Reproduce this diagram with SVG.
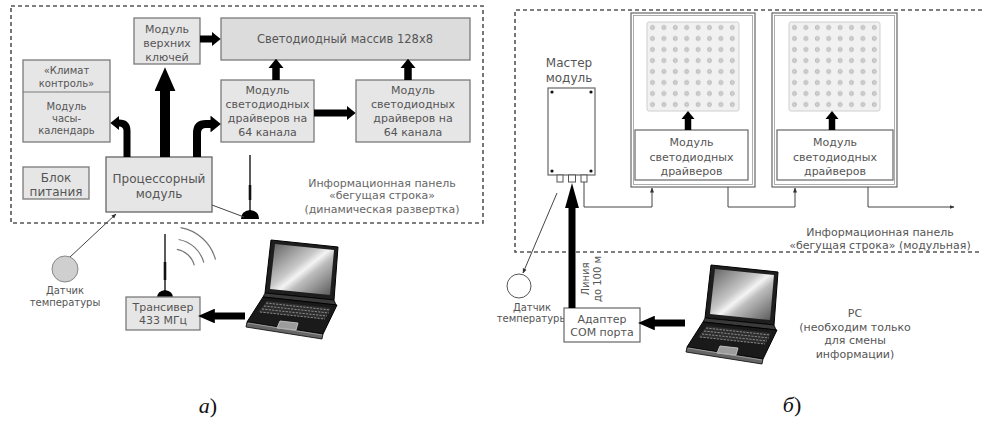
<svg xmlns="http://www.w3.org/2000/svg" width="982" height="421" viewBox="0 0 982 421">
  <style>
    .box { fill:#e6e6e6; stroke:#7a7a7a; stroke-width:1.3 }
    .boxd { fill:#dcdcdc; stroke:#7a7a7a; stroke-width:1.3 }
    .wbox { fill:#fff; stroke:#666; stroke-width:1.2 }
    .inner { fill:none; stroke:#9a9a9a; stroke-width:0.8 }
    .t { font-family:"DejaVu Sans", Verdana, sans-serif; font-size:11px; fill:#555; text-anchor:middle }
    .s10 { font-size:10px }
    .s12 { font-size:12px }
    .cap { font-family:"Liberation Serif", "Times New Roman", serif; font-size:22px; fill:#111; text-anchor:middle }
    .dash { fill:none; stroke:#555; stroke-width:1.6; stroke-dasharray:4 3 }
    .thick { fill:none; stroke:#000 }
    .thin { fill:none; stroke:#444; stroke-width:1 }
    .wave { fill:none; stroke:#777; stroke-width:1.2 }
  </style>
  <defs>
    <!-- short wide arrowhead, scales with the shaft width -->
    <marker id="hs" viewBox="0 0 10 10" refX="0.5" refY="5" markerWidth="1.3" markerHeight="2.1" markerUnits="strokeWidth" orient="auto" preserveAspectRatio="none">
      <path d="M0,0 L10,5 L0,10 Z" fill="#000"/>
    </marker>
    <!-- long arrowhead -->
    <marker id="hl" viewBox="0 0 10 10" refX="0.5" refY="5" markerWidth="2.4" markerHeight="2.1" markerUnits="strokeWidth" orient="auto" preserveAspectRatio="none">
      <path d="M0,0 L10,5 L0,10 Z" fill="#000"/>
    </marker>
    <!-- slim long arrowhead -->
    <marker id="hx" viewBox="0 0 10 10" refX="0.5" refY="5" markerWidth="3.6" markerHeight="2" markerUnits="strokeWidth" orient="auto" preserveAspectRatio="none">
      <path d="M0,0 L10,5 L0,10 Z" fill="#000"/>
    </marker>
    <!-- small arrowhead for thin wires -->
    <marker id="ht" viewBox="0 0 10 10" refX="9" refY="5" markerWidth="5" markerHeight="5" markerUnits="userSpaceOnUse" orient="auto">
      <path d="M0,1 L10,5 L0,9 Z" fill="#333"/>
    </marker>
    <linearGradient id="scr" x1="0" y1="0" x2="1" y2="1">
      <stop offset="0" stop-color="#5e5e5e"/>
      <stop offset="0.42" stop-color="#c8c8c8"/>
      <stop offset="0.52" stop-color="#f4f4f4"/>
      <stop offset="0.62" stop-color="#bdbdbd"/>
      <stop offset="1" stop-color="#555"/>
    </linearGradient>
    <pattern id="led" patternUnits="userSpaceOnUse" width="11.4" height="11" x="-1.5" y="-0.5">
      <circle cx="7" cy="6" r="2" fill="#d2d2d2" stroke="#9a9a9a" stroke-width="0.6"/>
    </pattern>
    <!-- notebook computer -->
    <g id="laptop">
      <polygon points="26,0 93,7 89,60 20,53" fill="#1e1e1e" stroke="#000" stroke-width="1"/>
      <polygon points="30,4 89,10 85,55 25,49" fill="url(#scr)"/>
      <polygon points="20,53 89,60 91,65 18,57" fill="#3a3a3a" stroke="#000" stroke-width="0.8"/>
      <polygon points="18,57 92,65 78,94 2,82" fill="#1a1a1a" stroke="#000" stroke-width="1"/>
      <polygon points="2,82 78,94 77,99 1,87" fill="#666" stroke="#000" stroke-width="0.8"/>
      <polygon points="22,61 86,68 80,79 13,72" fill="#2e2e2e"/>
      <g stroke="#8a8a8a" stroke-width="1" stroke-dasharray="2.2 1.2">
        <line x1="21" y1="63" x2="85" y2="70"/>
        <line x1="19" y1="66" x2="84" y2="73"/>
        <line x1="17" y1="69" x2="82" y2="76"/>
        <line x1="15" y1="72" x2="80" y2="79"/>
      </g>
      <polygon points="35,81 53,83 51,90 32,88" fill="#9c9c9c" stroke="#d0d0d0" stroke-width="0.8"/>
      <line x1="3" y1="83" x2="77" y2="95" stroke="#aaa" stroke-width="0.8"/>
    </g>
  </defs>

  <rect x="0" y="0" width="982" height="421" fill="#fff"/>

  <!-- ============ a) dynamic-scan panel ============ -->
  <rect class="dash" x="11" y="6" width="472" height="217"/>

  <g id="top-keys">
    <rect class="box" x="134" y="18" width="66" height="46"/>
    <text class="t"><tspan x="167" y="33">Модуль</tspan><tspan x="167" y="47">верхних</tspan><tspan x="167" y="61">ключей</tspan></text>
  </g>

  <g id="led-array">
    <rect class="boxd" x="221" y="18" width="249" height="42"/>
    <text class="t" x="345" y="43" style="font-size:11.5px">Светодиодный массив 128x8</text>
  </g>

  <g id="driver-1">
    <rect class="box" x="221" y="80" width="93" height="62"/>
    <text class="t"><tspan x="267.5" y="94">Модуль</tspan><tspan x="267.5" y="108">светодиодных</tspan><tspan x="267.5" y="122">драйверов на</tspan><tspan x="267.5" y="136">64 канала</tspan></text>
  </g>

  <g id="driver-2">
    <rect class="box" x="356" y="80" width="114" height="62"/>
    <text class="t"><tspan x="413" y="94">Модуль</tspan><tspan x="413" y="108">светодиодных</tspan><tspan x="413" y="122">драйверов на</tspan><tspan x="413" y="136">64 канала</tspan></text>
  </g>

  <g id="clock-module">
    <rect class="box" x="23" y="60" width="87" height="82"/>
    <line x1="23" y1="92" x2="110" y2="92" stroke="#7a7a7a" stroke-width="1.2"/>
    <text class="t s10"><tspan x="66.5" y="74">«Климат</tspan><tspan x="66.5" y="87">контроль»</tspan></text>
    <text class="t s10"><tspan x="66.5" y="110">Модуль</tspan><tspan x="66.5" y="122">часы-</tspan><tspan x="66.5" y="134">календарь</tspan></text>
  </g>

  <g id="power">
    <rect class="box" x="23" y="167" width="66" height="32"/>
    <text class="t s12"><tspan x="56" y="182">Блок</tspan><tspan x="56" y="196">питания</tspan></text>
  </g>

  <g id="cpu">
    <rect class="box" x="106" y="157" width="106" height="55" style="stroke:#666"/>
    <text class="t s12"><tspan x="159" y="183">Процессорный</tspan><tspan x="159" y="198">модуль</tspan></text>
  </g>

  <g id="antenna-a">
    <line x1="250" y1="155" x2="250" y2="214" stroke="#333" stroke-width="1.6"/>
    <line x1="250" y1="185" x2="250" y2="200" stroke="#111" stroke-width="2.6"/>
    <path d="M241,219 Q241,211 250,210 Q259,211 259,219 Z" fill="#000"/>
  </g>

  <text class="t" style="fill:#666"><tspan x="382" y="187">Информационная панель</tspan><tspan x="382" y="199">«бегущая строка»</tspan><tspan x="382" y="213">(динамическая развертка)</tspan></text>

  <g id="temp-a">
    <circle cx="65" cy="269" r="13" fill="#cfcfcf" stroke="#888" stroke-width="1"/>
    <text class="t s10"><tspan x="65" y="294">Датчик</tspan><tspan x="65" y="306">температуры</tspan></text>
  </g>

  <g id="transceiver">
    <line x1="165" y1="234" x2="165" y2="294" stroke="#333" stroke-width="1.6"/>
    <line x1="165" y1="262" x2="165" y2="280" stroke="#111" stroke-width="2.6"/>
    <path d="M157,298 Q157,291 165,290 Q173,291 173,298 Z" fill="#000"/>
    <rect class="box" x="126" y="297" width="74" height="33"/>
    <text class="t"><tspan x="163" y="311">Трансивер</tspan><tspan x="163" y="324">433 МГц</tspan></text>
  </g>

  <g id="radio-waves">
    <path class="wave" d="M176.8,249.3 A22,22 0 0 1 194.3,265.3"/>
    <path class="wave" d="M178.6,239.5 A32,32 0 0 1 203.9,262.7"/>
    <path class="wave" d="M180.6,227.7 A44,44 0 0 1 215.5,259.6"/>
  </g>

  <g id="pc-a">
    <use href="#laptop" transform="translate(245,240)"/>
  </g>

  <!-- ============ б) modular panel ============ -->
  <path class="dash" d="M982,10 H515 V252 H982"/>

  <g id="master">
    <text class="t s12"><tspan x="569" y="67">Мастер</tspan><tspan x="569" y="82">модуль</tspan></text>
    <rect class="wbox" x="548" y="88" width="47" height="87"/>
    <g fill="#111">
      <circle cx="552" cy="92" r="1.6"/><circle cx="591" cy="92" r="1.6"/>
      <circle cx="552" cy="171" r="1.6"/><circle cx="591" cy="171" r="1.6"/>
    </g>
    <g fill="#fff" stroke="#555" stroke-width="1">
      <rect x="557" y="175" width="6" height="7"/>
      <rect x="568.5" y="175" width="7" height="7"/>
      <rect x="581" y="175" width="6" height="7"/>
    </g>
  </g>

  <g id="led-module-1">
    <rect class="wbox" x="631" y="13" width="124" height="174"/>
    <rect class="inner" x="633.5" y="15.5" width="119" height="169"/>
    <rect x="647" y="22" width="92" height="89" rx="2" fill="#f1f1f1" stroke="#cfcfcf"/>
    <g transform="translate(647,22)"><rect width="92" height="89" fill="url(#led)"/></g>
    <rect class="wbox" x="635" y="130" width="113" height="50"/>
    <text class="t"><tspan x="691.5" y="146">Модуль</tspan><tspan x="691.5" y="161">светодиодных</tspan><tspan x="691.5" y="175">драйверов</tspan></text>
  </g>

  <g id="led-module-2">
    <rect class="wbox" x="772" y="13" width="125" height="174"/>
    <rect class="inner" x="774.5" y="15.5" width="120" height="169"/>
    <rect x="789" y="22" width="91" height="89" rx="2" fill="#f1f1f1" stroke="#cfcfcf"/>
    <g transform="translate(789,22)"><rect width="91" height="89" fill="url(#led)"/></g>
    <rect class="wbox" x="777" y="130" width="116" height="50"/>
    <text class="t"><tspan x="835" y="146">Модуль</tspan><tspan x="835" y="161">светодиодных</tspan><tspan x="835" y="175">драйверов</tspan></text>
  </g>

  <text class="t" style="fill:#555"><tspan x="880" y="236">Информационная панель</tspan><tspan x="880" y="249">«бегущая строка» (модульная)</tspan></text>

  <g id="temp-b">
    <circle cx="519" cy="286" r="12" fill="#fff" stroke="#555" stroke-width="1"/>
    <text class="t s10"><tspan x="532" y="311">Датчик</tspan><tspan x="532" y="322">температуры</tspan></text>
  </g>

  <g id="adapter">
    <rect class="wbox" x="564" y="308" width="76" height="34"/>
    <text class="t"><tspan x="602" y="323">Адаптер</tspan><tspan x="602" y="336">COM порта</tspan></text>
  </g>

  <text class="t s10" transform="translate(589,279) rotate(-90)"><tspan x="0" y="0">Линия</tspan><tspan x="0" y="12">до 100 м</tspan></text>

  <g id="pc-b">
    <use href="#laptop" transform="translate(685,265)"/>
    <text class="t"><tspan x="855" y="317">PC</tspan><tspan x="855" y="331">(необходим только</tspan><tspan x="855" y="344">для смены</tspan><tspan x="855" y="358">информации)</tspan></text>
  </g>

  <!-- ============ connectors ============ -->
  <g id="connectors">
    <path class="thick" d="M200,39 H212" stroke-width="7" marker-end="url(#hs)"/>
    <path class="thick" d="M165,157 V90" stroke-width="10" marker-end="url(#hl)"/>
    <path class="thick" d="M127,157 V131 Q127,123 119,123" stroke-width="7" marker-end="url(#hs)"/>
    <path class="thick" d="M197,157 V133 Q197,124 206,124 H211" stroke-width="8" marker-end="url(#hs)"/>
    <path class="thick" d="M276,80 V68" stroke-width="7.5" marker-end="url(#hs)"/>
    <path class="thick" d="M408,80 V68" stroke-width="7.5" marker-end="url(#hs)"/>
    <path class="thick" d="M314,113 H347" stroke-width="7" marker-end="url(#hs)"/>
    <path class="thick" d="M245,316 H214" stroke-width="7" marker-end="url(#hl)"/>
    <path class="thin" d="M244,217 L212,205"/>
    <path class="thin" d="M70,257 L116,214" marker-end="url(#ht)"/>

    <path class="thick" d="M688,130 V119" stroke-width="6.5" marker-end="url(#hs)"/>
    <path class="thick" d="M832,130 V119" stroke-width="6.5" marker-end="url(#hs)"/>
    <path class="thick" d="M572,308 V207" stroke-width="7" marker-end="url(#hx)"/>
    <path class="thick" d="M685,323 H654" stroke-width="7" marker-end="url(#hl)"/>
    <path class="thin" d="M584,182 V207 H652 V188" marker-end="url(#ht)"/>
    <path class="thin" d="M728,187 V207 H795 V188" marker-end="url(#ht)"/>
    <path class="thin" d="M868,187 V207 H954" marker-end="url(#ht)"/>
    <path class="thin" d="M557,193 L523,273" marker-end="url(#ht)"/>
  </g>

  <!-- captions -->
  <text class="cap" x="208" y="413"><tspan font-style="italic">а</tspan>)</text>
  <text class="cap" x="792" y="412"><tspan font-style="italic">б</tspan>)</text>
</svg>
